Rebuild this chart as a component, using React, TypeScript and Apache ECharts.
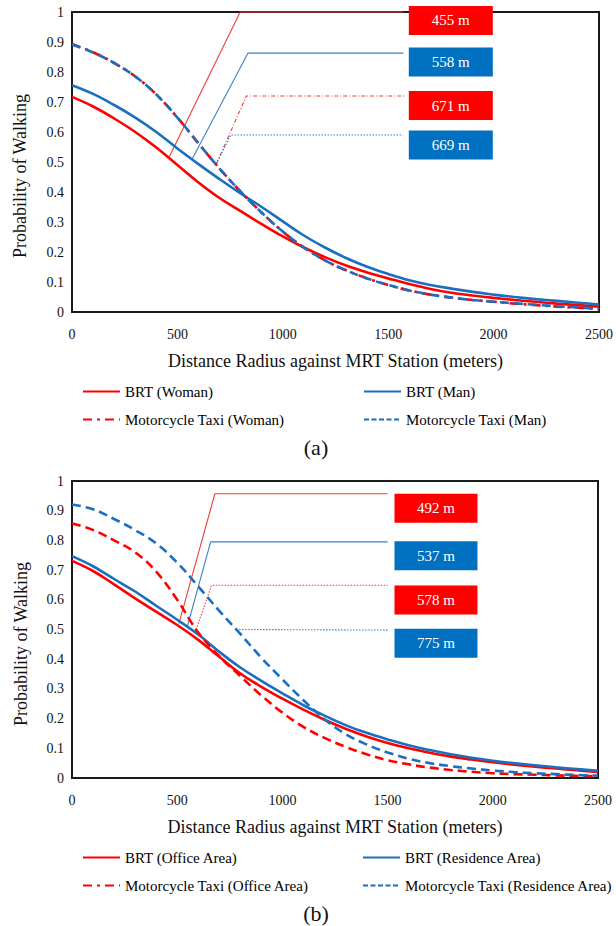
import React, { useEffect, useRef } from "react";
import * as echarts from "echarts";

// ---------- data ----------
const distances = [0, 100, 200, 300, 400, 500, 600, 700, 800, 900, 1000, 1100, 1200, 1300, 1400, 1500, 1600, 1700, 1800, 1900, 2000, 2100, 2200, 2300, 2400, 2500];

// (a)
const brtWoman = [0.717, 0.685, 0.645, 0.6, 0.548, 0.49, 0.432, 0.38, 0.336, 0.293, 0.252, 0.215, 0.183, 0.155, 0.132, 0.112, 0.093, 0.077, 0.064, 0.055, 0.047, 0.04, 0.034, 0.028, 0.023, 0.018];
const brtMan = [0.756, 0.727, 0.69, 0.648, 0.6, 0.545, 0.493, 0.443, 0.395, 0.35, 0.302, 0.255, 0.215, 0.18, 0.151, 0.127, 0.106, 0.09, 0.078, 0.067, 0.058, 0.05, 0.043, 0.037, 0.031, 0.025];
const mtWoman = [0.893, 0.866, 0.83, 0.785, 0.725, 0.648, 0.562, 0.478, 0.401, 0.331, 0.268, 0.215, 0.172, 0.139, 0.112, 0.09, 0.072, 0.058, 0.048, 0.04, 0.034, 0.028, 0.023, 0.018, 0.014, 0.01];
const mtMan = [0.891, 0.865, 0.83, 0.785, 0.725, 0.648, 0.562, 0.478, 0.401, 0.331, 0.268, 0.215, 0.172, 0.139, 0.112, 0.09, 0.072, 0.058, 0.048, 0.04, 0.034, 0.029, 0.024, 0.019, 0.015, 0.011];

// (b)
const brtOffice = [0.731, 0.697, 0.652, 0.605, 0.56, 0.515, 0.465, 0.408, 0.352, 0.307, 0.267, 0.23, 0.196, 0.166, 0.14, 0.118, 0.1, 0.085, 0.072, 0.062, 0.053, 0.045, 0.038, 0.032, 0.026, 0.02];
const brtResidence = [0.747, 0.713, 0.67, 0.628, 0.58, 0.533, 0.483, 0.425, 0.372, 0.327, 0.285, 0.245, 0.21, 0.178, 0.152, 0.13, 0.11, 0.094, 0.08, 0.068, 0.058, 0.05, 0.043, 0.036, 0.03, 0.024];
const mtOffice = [0.857, 0.835, 0.8, 0.76, 0.695, 0.6, 0.49, 0.41, 0.343, 0.278, 0.22, 0.172, 0.135, 0.105, 0.08, 0.06, 0.046, 0.035, 0.027, 0.021, 0.016, 0.013, 0.011, 0.009, 0.007, 0.006];
const mtResidence = [0.921, 0.905, 0.872, 0.835, 0.79, 0.725, 0.645, 0.563, 0.485, 0.405, 0.332, 0.262, 0.198, 0.148, 0.113, 0.086, 0.065, 0.05, 0.04, 0.032, 0.025, 0.02, 0.016, 0.013, 0.01, 0.008];

const namesA = ["BRT (Woman)", "BRT (Man)", "Motorcycle Taxi (Woman)", "Motorcycle Taxi (Man)"];
const namesB = ["BRT (Office Area)", "BRT (Residence Area)", "Motorcycle Taxi (Office Area)", "Motorcycle Taxi (Residence Area)"];

// callout connectors (distance, probability)
const calloutA1 = [[457, 0.511], [798, 1.0], [1571, 1.0]];
const calloutA2 = [[567, 0.506], [835, 0.863], [1571, 0.863]];
const calloutA3 = [[685, 0.494], [827, 0.72], [1575, 0.72]];
const calloutA4 = [[685, 0.494], [753, 0.59], [1571, 0.59]];
const calloutB1 = [[508, 0.52], [679, 0.957], [1500, 0.957]];
const calloutB2 = [[548, 0.51], [659, 0.795], [1500, 0.795]];
const calloutB3 = [[590, 0.5], [663, 0.649], [1500, 0.649]];
const calloutB4 = [[794, 0.5], [1504, 0.498]];

const boxLabelsA = ["455 m", "558 m", "671 m", "669 m"];
const boxPosA = [[1797, 0.972], [1797, 0.833], [1797, 0.688], [1797, 0.557]];
const boxLabelsB = ["492 m", "537 m", "578 m", "775 m"];
const boxPosB = [[1730, 0.908], [1730, 0.748], [1730, 0.599], [1730, 0.454]];

const xTitle = "Distance Radius against MRT Station (meters)";
const yTitle = "Probability of Walking";

// ---------- styling ----------
const RED = "#ff0000";
const BLUE = "#1a6fc0";
const BOX_BLUE = "#0070c0";
const SERIF = "Liberation Serif";
const DASH = [9, 5];
const DASHDOT = [9, 5, 3, 5];

function pairs(arr: number[]) {
  return distances.map((d, i) => [d, arr[i]]);
}

function curve(name: string, arr: number[], color: string, type: any, idx: number) {
  return {
    type: "line",
    name,
    xAxisIndex: idx,
    yAxisIndex: idx,
    data: pairs(arr),
    symbol: "none",
    smooth: 0.4,
    lineStyle: { color, width: 2.6, type },
    itemStyle: { color },
    z: 3,
  };
}

function connector(pts: number[][], color: string, type: any, idx: number) {
  return {
    type: "line",
    xAxisIndex: idx,
    yAxisIndex: idx,
    data: pts,
    symbol: "none",
    silent: true,
    clip: false,
    lineStyle: { color, width: 1.1, type },
    z: 2,
  };
}

function boxes(pos: number[][], labels: string[], colors: string[], idx: number, size: number[]) {
  return {
    type: "scatter",
    xAxisIndex: idx,
    yAxisIndex: idx,
    silent: true,
    clip: false,
    symbol: "rect",
    symbolSize: size,
    z: 5,
    data: pos.map((p, i) => ({ value: p, name: labels[i], itemStyle: { color: colors[i], opacity: 1 } })),
    label: {
      show: true,
      position: "inside",
      formatter: "{b}",
      color: "#ffffff",
      fontFamily: SERIF,
      fontSize: 15,
    },
  };
}

function legend(name: string, left: number, top: number, lineType?: any) {
  return {
    data: [lineType ? { name, lineStyle: { type: lineType } } : name],
    left,
    top,
    padding: 0,
    itemWidth: 37,
    itemHeight: 14,
    selectedMode: false,
    itemStyle: { color: "rgba(0,0,0,0)", borderColor: "rgba(0,0,0,0)", borderWidth: 0, opacity: 0 },
    textStyle: { fontFamily: SERIF, fontSize: 15, color: "#000" },
  };
}

function xAxisDef(idx: number) {
  return {
    type: "value",
    gridIndex: idx,
    min: 0,
    max: 2500,
    interval: 500,
    axisLine: { show: false },
    axisTick: { show: false },
    splitLine: { show: false },
    axisLabel: { margin: 15, color: "#111", fontFamily: SERIF, fontSize: 14, formatter: (v: number) => String(v) },
    name: xTitle,
    nameLocation: "middle",
    nameGap: 40,
    nameTextStyle: { fontFamily: SERIF, fontSize: 18, color: "#111" },
  };
}

function yAxisDef(idx: number) {
  return {
    type: "value",
    gridIndex: idx,
    min: 0,
    max: 1,
    interval: 0.1,
    axisLine: { show: false },
    axisTick: { show: false },
    splitLine: { show: false },
    axisLabel: { margin: 8, color: "#111", fontFamily: SERIF, fontSize: 14, formatter: (v: number) => String(Math.round(v * 10) / 10) },
  };
}

export default function App() {
  const ref = useRef<HTMLDivElement>(null);
  useEffect(() => {
    if (!ref.current) return;
    const chart = echarts.init(ref.current, undefined, { renderer: "svg" });
    const option: any = {
      animation: false,
      backgroundColor: "#ffffff",
      textStyle: { fontFamily: SERIF },
      grid: [
        { left: 72, top: 12, width: 530, height: 300, show: true, borderColor: "#1a1a1a", borderWidth: 2, backgroundColor: "transparent" },
        { left: 72, top: 481, width: 526, height: 297, show: true, borderColor: "#1a1a1a", borderWidth: 2, backgroundColor: "transparent" },
      ],
      xAxis: [xAxisDef(0), xAxisDef(1)],
      yAxis: [yAxisDef(0), yAxisDef(1)],
      legend: [
        legend(namesA[0], 82, 384),
        legend(namesA[1], 363, 384),
        legend(namesA[2], 82, 412, DASHDOT),
        legend(namesA[3], 363, 412, [5, 2.5]),
        legend(namesB[0], 82, 850),
        legend(namesB[1], 362, 850),
        legend(namesB[2], 82, 878, DASHDOT),
        legend(namesB[3], 362, 878, [5, 2.5]),
      ],
      graphic: [
        { type: "text", x: 20, y: 176, rotation: Math.PI / 2, style: { text: yTitle, fontFamily: SERIF, fontSize: 18, fill: "#111", align: "center", verticalAlign: "middle" } },
        { type: "text", x: 21, y: 644, rotation: Math.PI / 2, style: { text: yTitle, fontFamily: SERIF, fontSize: 18, fill: "#111", align: "center", verticalAlign: "middle" } },
        { type: "text", x: 316, y: 447, style: { text: "(a)", fontFamily: SERIF, fontSize: 22, fill: "#111", align: "center", verticalAlign: "middle" } },
        { type: "text", x: 316, y: 913, style: { text: "(b)", fontFamily: SERIF, fontSize: 22, fill: "#111", align: "center", verticalAlign: "middle" } },
      ],
      series: [
        connector(calloutA1, "#f03c3c", "solid", 0),
        connector(calloutA2, "#3b7fc4", "solid", 0),
        connector(calloutA3, "#f03c3c", [4, 2, 1, 2], 0),
        connector(calloutA4, "#3b7fc4", [1.5, 1.5], 0),
        curve(namesA[0], brtWoman, RED, "solid", 0),
        curve(namesA[1], brtMan, BLUE, "solid", 0),
        curve(namesA[2], mtWoman, RED, DASHDOT, 0),
        curve(namesA[3], mtMan, BLUE, DASH, 0),
        boxes(boxPosA, boxLabelsA, [RED, BOX_BLUE, RED, BOX_BLUE], 0, [84, 29]),

        connector(calloutB1, "#f03c3c", "solid", 1),
        connector(calloutB2, "#3b7fc4", "solid", 1),
        connector(calloutB3, "#f03c3c", [1.5, 1.5], 1),
        connector(calloutB4, "#3b7fc4", [1.5, 1.5], 1),
        curve(namesB[0], brtOffice, RED, "solid", 1),
        curve(namesB[1], brtResidence, BLUE, "solid", 1),
        curve(namesB[2], mtOffice, RED, DASH, 1),
        curve(namesB[3], mtResidence, BLUE, DASH, 1),
        boxes(boxPosB, boxLabelsB, [RED, BOX_BLUE, RED, BOX_BLUE], 1, [83, 29]),
      ],
    };
    chart.setOption(option);
    return () => chart.dispose();
  }, []);
  return <div ref={ref} style={{ position: "fixed", left: 0, top: 0, width: 616, height: 926, background: "#fff" }} />;
}
